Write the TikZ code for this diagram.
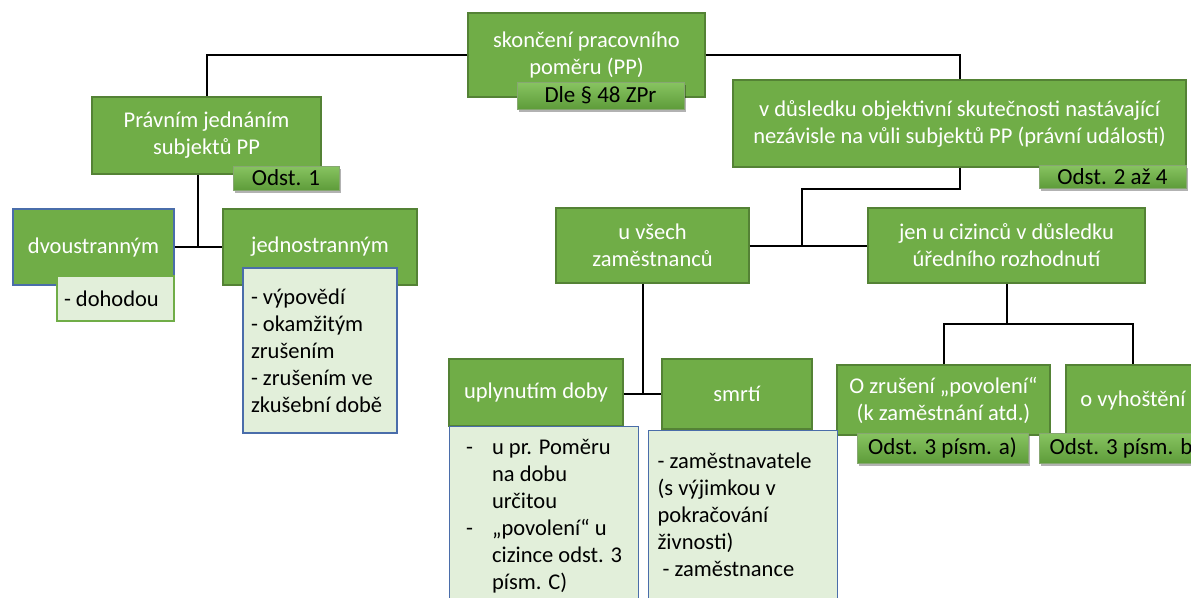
\documentclass[tikz,border=0pt]{standalone}
\usepackage{fontspec}
\setmainfont{Carlito}
\usetikzlibrary{shadows}
\definecolor{gfill}{HTML}{70AD47}
\definecolor{gline}{HTML}{548235}
\definecolor{lfill}{HTML}{E2EFDA}
\definecolor{bline}{HTML}{4A6DAA}
\definecolor{lgline}{HTML}{70AD47}
\definecolor{tagtop}{HTML}{88C461}
\definecolor{tagbot}{HTML}{5E9C3A}
\begin{document}
\begin{tikzpicture}[x=1pt,y=-1pt,
  gbox/.style={draw=gline, line width=1.2pt, fill=gfill, text=white, align=center, inner sep=0pt, font=\fontsize{22.5}{27}\selectfont},
  lbox/.style={draw=bline, line width=1.2pt, fill=lfill, text=black, align=flush left, font=\fontsize{22.5}{27}\selectfont},
  tagbox/.style={draw=gline!70, line width=0.5pt, top color=tagtop, bottom color=tagbot, text=black, inner sep=0pt, font=\fontsize{23}{26}\selectfont, drop shadow={shadow xshift=1.5pt, shadow yshift=-2.5pt, opacity=0.3, fill=black}},
  conn/.style={line width=2pt, black}]
\useasboundingbox (0,0) rectangle (1191,597);
\clip (0,0) rectangle (1191,597);
\fill[white] (0,0) rectangle (1191,597);

% coordinates for connectors
\coordinate (j1) at (198,247);
\coordinate (k2) at (802,189);
\coordinate (j2) at (802,246);
\coordinate (j3) at (643,394);
\coordinate (k4) at (1006.5,324);

% main boxes
\node[gbox, minimum width=237, minimum height=84] (top) at (586.5,55) {skončení pracovního\\poměru (PP)};
\node[gbox, minimum width=229, minimum height=77] (prav) at (206.5,135.5) {Právním jednáním\\subjektů PP};
\node[gbox, minimum width=453, minimum height=87] (big) at (959.5,123.5) {v důsledku objektivní skutečnosti nastávající\\nezávisle na vůli subjektů PP (právní události)};
\node[gbox, draw=bline, minimum width=161, minimum height=76] (dvou) at (93.5,247) {dvoustranným};
\node[gbox, minimum width=194, minimum height=76] (jedn) at (320,247) {jednostranným};
\node[gbox, minimum width=193, minimum height=75] (vsech) at (652.5,245.5) {u všech\\zaměstnanců};
\node[gbox, minimum width=277, minimum height=75] (jen) at (1006.5,245.5) {jen u cizinců v důsledku\\úředního rozhodnutí};
\node[gbox, minimum width=174, minimum height=67] (upl) at (536,392.5) {uplynutím doby};
\node[gbox, minimum width=150, minimum height=70] (smrti) at (737,394) {smrtí};
\node[gbox, minimum width=213, minimum height=70] (ozrus) at (943.5,400) {O zrušení „povolení“\\(k zaměstnání atd.)};
\node[gbox, minimum width=134, minimum height=70] (vyhost) at (1133,400) {o vyhoštění};

% connectors
\draw[conn] (top.west) -| (prav.north);
\draw[conn] (top.east) -| (big.north);
\draw[conn] (prav.south -| j1) -- (j1);
\draw[conn] (dvou.east) -- (jedn.west);
\draw[conn] (big.south) |- (k2) -- (j2);
\draw[conn] (vsech.east) -- (jen.west);
\draw[conn] (vsech.south -| j3) -- (j3);
\draw[conn] (upl.east |- j3) -- (smrti.west |- j3);
\draw[conn] (jen.south) -- (k4);
\draw[conn] (ozrus.north) |- (k4) -| (vyhost.north);

% list boxes
\node[lbox, draw=lgline, minimum width=117, minimum height=45, text width=103, inner xsep=7pt, inner ysep=0pt] (doh) at (115.5,298.5) {- dohodou};
\node[lbox, minimum width=154, minimum height=165, text width=138, inner xsep=8pt, inner ysep=0pt] (vyp) at (320,350.5) {- výpovědí\\- okamžitým\\zrušením\\- zrušením ve\\zkušební době};
\node[lbox, anchor=north west, minimum width=189, inner xsep=11pt, inner ysep=9pt] (upll) at (449,426) {\begin{tabular}{@{}p{26pt}@{}l@{}}
-& u pr. Poměru\\
 & na dobu\\
 & určitou\\
-& „povolení“ u\\
 & cizince odst. 3\\
 & písm. C)
\end{tabular}};
\node[lbox, anchor=north west, minimum width=189, text width=171, inner xsep=9pt, inner ysep=22pt] (smrtil) at (648,430) {- zaměstnavatele\\(s výjimkou v\\pokračování\\živnosti)\\\hspace*{5pt}- zaměstnance};

% tags
\node[tagbox, minimum width=167, minimum height=27] (tag0) at (600.5,95.5) {Dle § 48 ZPr};
\node[tagbox, minimum width=106, minimum height=24] (tag1) at (286,178) {Odst. 1};
\node[tagbox, minimum width=147, minimum height=23] (tag2) at (1112.5,176.5) {Odst. 2 až 4};
\node[tagbox, minimum width=171, minimum height=30] (tag3) at (942.5,448) {Odst. 3 písm. a)};
\node[tagbox, minimum width=171, minimum height=30] (tag4) at (1124.5,448) {Odst. 3 písm. b)};
\end{tikzpicture}
\end{document}
